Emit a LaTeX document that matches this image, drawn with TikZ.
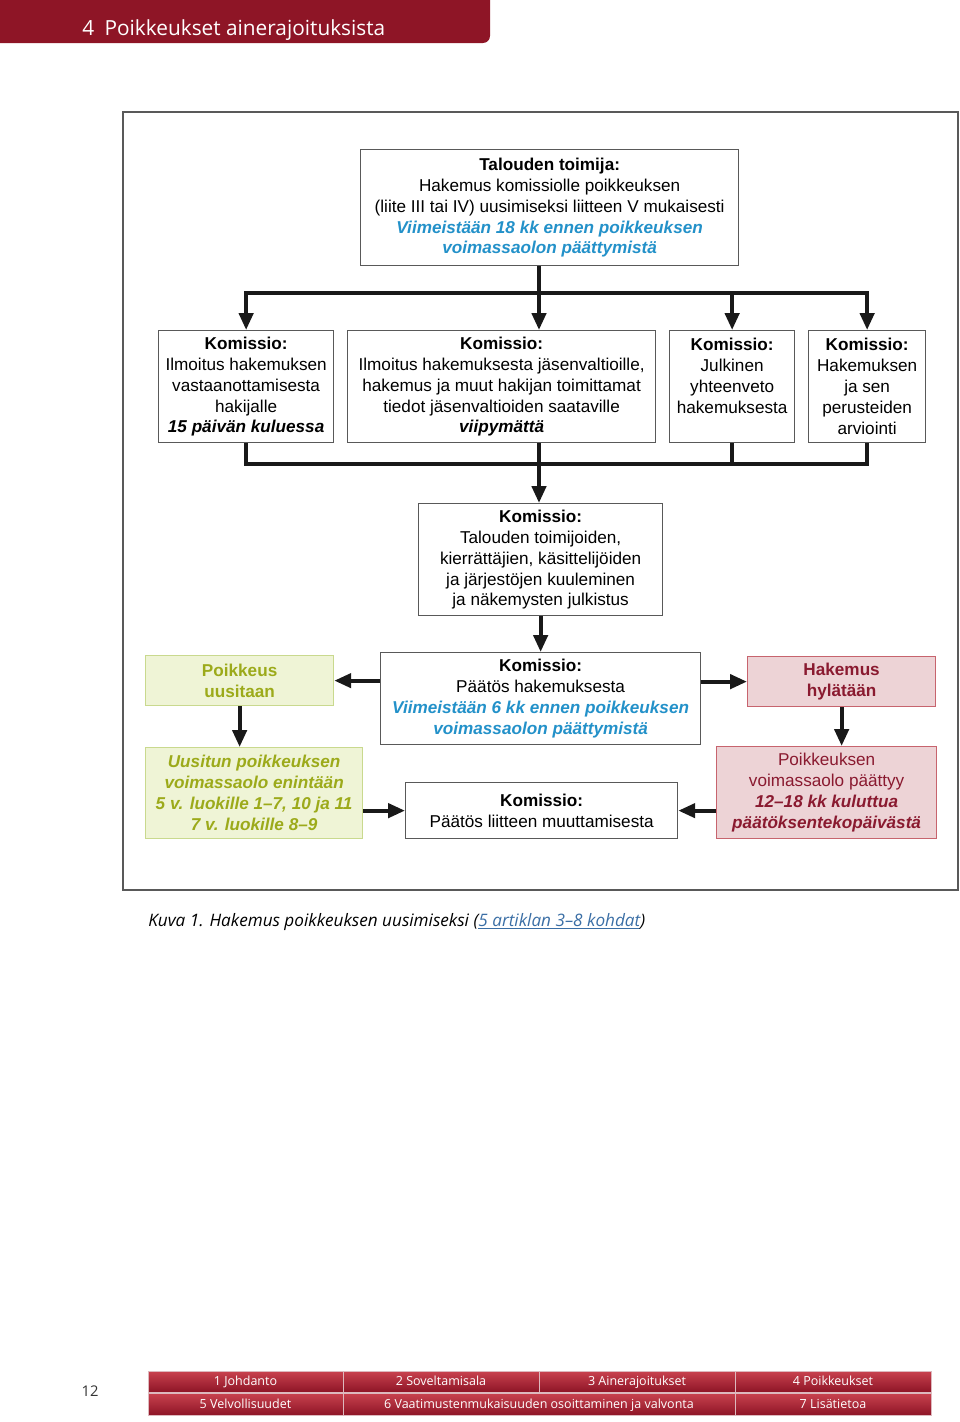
\documentclass[tikz,border=0pt]{standalone}
\usepackage{fontspec}
\setmainfont{Liberation Sans}
\newfontfamily\pagefont{Open Sans}
\usetikzlibrary{arrows.meta}

\definecolor{headred}{HTML}{8E1526}
\definecolor{navtop}{HTML}{C9424F}
\definecolor{deadline}{HTML}{2391C9}
\definecolor{renewtext}{HTML}{9CAA1A}
\definecolor{renewfill}{HTML}{EFF4D6}
\definecolor{renewline}{HTML}{C9D98E}
\definecolor{rejecttext}{HTML}{8A1A30}
\definecolor{rejectfill}{HTML}{EDD3D6}
\definecolor{rejectline}{HTML}{C7646E}
\definecolor{linkblue}{HTML}{3A6EA5}

\tikzset{
	stage/.style={draw=black!65, line width=0.9pt, fill=white, align=center, inner sep=0pt,
		font=\fontsize{12.2}{14.9}\selectfont},
	renew/.style={stage, draw=renewline, fill=renewfill, text=renewtext},
	reject/.style={stage, draw=rejectline, fill=rejectfill, text=rejecttext},
	bus/.style={line width=2.8pt, black!90},
	flow/.style={bus, -{Triangle[length=12pt,width=10pt]}},
	navcell/.style={text=white, text height=1.6ex, text depth=0.4ex, font=\pagefont\fontsize{8.9}{10}\selectfont}
}

% box from its top left corner (#2,#3) to its bottom right corner (#4,#5)
\newcommand*{\stageBox}[7]{
	\node[#6, anchor=north west, minimum width={(#4-#2)*0.025cm},
	minimum height={(#5-#3)*0.025cm}] (#1) at (#2,#3) {#7};
}
\newcommand*{\due}[1]{\textcolor{deadline}{\textbf{\textit{#1}}}}

\begin{document}
\begin{tikzpicture}[x=0.025cm,y=-0.025cm]
	\useasboundingbox (0,0) rectangle (960,1422);
	
	% header tab
	\fill[headred] (0,0) -- (490,0) {[rounded corners=5pt] -- (490,43)} -- (0,43) -- cycle;
	\node[anchor=base west, text=white, font=\pagefont\fontsize{14.8}{17}\selectfont, inner sep=0pt] (title) at (82,35)
	{4\enspace Poikkeukset ainerajoituksista};
	
	% frame of the figure
	\draw[black!65, line width=0.9pt] (123,112) rectangle (958,890);
	
	%the boxes
	\stageBox{applicant}{360}{149}{738}{265}{stage}{\textbf{Talouden toimija:}\\Hakemus komissiolle poikkeuksen\\
		(liite III tai IV) uusimiseksi liitteen V mukaisesti\\\due{Viimeistään 18 kk ennen poikkeuksen}\\
		\due{voimassaolon päättymistä}}
	\stageBox{notice}{158}{330}{333}{442}{stage}{\textbf{Komissio:}\\Ilmoitus hakemuksen\\vastaanottamisesta\\
		hakijalle\\\textbf{\textit{15 päivän kuluessa}}}
	\stageBox{inform}{347}{330}{655}{442}{stage}{\textbf{Komissio:}\\Ilmoitus hakemuksesta jäsenvaltioille,\\
		hakemus ja muut hakijan toimittamat\\tiedot jäsenvaltioiden saataville\\\textbf{\textit{viipymättä}}}
	\stageBox{summary}{669}{330}{794}{442}{stage}{\textbf{Komissio:}\\Julkinen\\yhteenveto\\hakemuksesta\\\mbox{}}
	\stageBox{assess}{808}{330}{925}{442}{stage}{\textbf{Komissio:}\\Hakemuksen\\ja sen\\perusteiden\\arviointi}
	\stageBox{hearing}{418}{503}{662}{615}{stage}{\textbf{Komissio:}\\Talouden toimijoiden,\\
		kierrättäjien, käsittelijöiden\\ja järjestöjen kuuleminen\\ja näkemysten julkistus}
	\stageBox{decision}{380}{652}{700}{744}{stage}{\textbf{Komissio:}\\Päätös hakemuksesta\\
		\due{Viimeistään 6 kk ennen poikkeuksen}\\\due{voimassaolon päättymistä}}
	\stageBox{renewed}{145}{655}{333}{705}{renew}{\textbf{Poikkeus}\\\textbf{uusitaan}}
	\stageBox{rejected}{747}{656}{935}{706}{reject}{\textbf{Hakemus}\\\textbf{hylätään}}
	\stageBox{validity}{145}{747}{362}{838}{renew}{\textbf{\textit{Uusitun poikkeuksen}}\\
		\textbf{\textit{voimassaolo enintään}}\\\textbf{\textit{5 v. luokille 1–7, 10 ja 11}}\\
		\textbf{\textit{7 v. luokille 8–9}}}
	\stageBox{expiry}{716}{746}{936}{838}{reject}{Poikkeuksen\\voimassaolo päättyy\\
		\textbf{\textit{12–18 kk kuluttua}}\\\textbf{\textit{päätöksentekopäivästä}}}
	\stageBox{amend}{405}{782}{677}{838}{stage}{\textbf{Komissio:}\\Päätös liitteen muuttamisesta}
	
	% branching from the application
	\coordinate (trunk) at (539,293);
	\draw[bus] (applicant.south -| trunk) -- (trunk);
	\draw[bus, line cap=rect] (notice.north |- trunk) -- (assess.north |- trunk);
	\draw[flow] (trunk) -- (trunk |- inform.north);
	\foreach \n in {notice,summary,assess}
	{
		\draw[flow] (\n.north |- trunk) -- (\n.north);
	}
	
	% joining to the hearing
	\coordinate (merge) at (539,464);
	\draw[bus, line join=miter] (notice.south) -- (notice.south |- merge) -- (assess.south |- merge) -- (assess.south);
	\draw[bus] (summary.south) -- (summary.south |- merge);
	\draw[bus] (inform.south -| merge) -- (merge);
	\draw[flow] (merge) -- (merge |- hearing.north);
	\draw[flow] (hearing.south) -- (decision.north);
	
	% outcomes of the decision
	\draw[flow] (decision.west |- renewed) -- (renewed.east);
	\draw[flow] (decision.east |- rejected) -- (rejected.west);
	\draw[flow] (renewed.south) -- (renewed.south |- validity.north);
	\draw[flow] (rejected.south) -- (rejected.south |- expiry.north);
	\draw[flow] (validity.east |- amend) -- (amend.west);
	\draw[flow] (expiry.west |- amend) -- (amend.east);
	
	% caption
	\node[anchor=base west, inner sep=0pt, font=\pagefont\itshape\fontsize{12.2}{14}\selectfont] (caption) at (148,926)
	{Kuva 1. Hakemus poikkeuksen uusimiseksi (\textcolor{linkblue}{\underline{5 artiklan 3–8 kohdat}})};
	
	% page number and navigation bar
	\node[font=\pagefont\fontsize{10.5}{12}\selectfont, text=black!80] (pagenum) at (90,1391) {12};
	\foreach \xa/\ya/\xb/\yb/\lab in {148/1371/343/1392/{1 Johdanto},343/1371/539/1392/{2 Soveltamisala},
		539/1371/735/1392/{3 Ainerajoitukset},735/1371/931/1392/{4 Poikkeukset},
		148/1393/343/1415/{5 Velvollisuudet},343/1393/735/1415/{6 Vaatimustenmukaisuuden osoittaminen ja valvonta},
		735/1393/931/1415/{7 Lisätietoa}}
	{
		\shade[top color=navtop, bottom color=headred, draw=white!70!headred, line width=0.4pt]
		(\xa,\ya) rectangle (\xb,\yb);
		\node[navcell] at ({(\xa+\xb)/2},{(\ya+\yb)/2}) {\lab};
	}
	
\end{tikzpicture}
\end{document}
